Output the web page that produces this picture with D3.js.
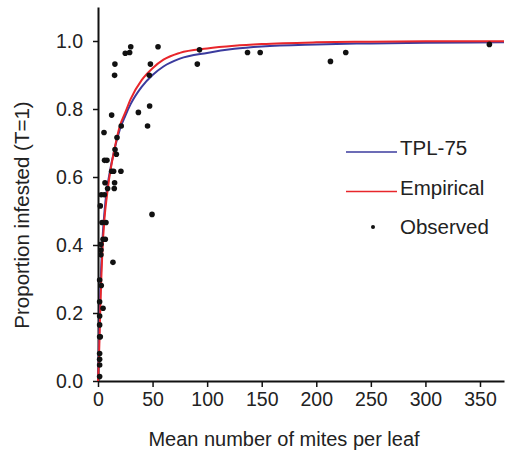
<!DOCTYPE html>
<html>
<head>
<meta charset="utf-8">
<script src="https://cdn.jsdelivr.net/npm/d3@7"></script>
<style>
  body { margin: 0; background: #fff; }
  svg text { font-family: "Liberation Sans", Arial, sans-serif; fill: #222; }
</style>
</head>
<body>
<svg id="chart" width="505" height="459"></svg>
<script>
// observed points (mean mites per leaf, proportion infested)
var obsX = [25, 29, 30, 15.5, 15.2, 55, 48, 47, 93, 91,
            37, 47.3, 45.4, 12.5, 5.5, 21.3, 17.4, 15.6, 16.8, 12.5,
            14.3, 21, 6, 8.2, 6.4, 15.2, 8.8, 14.9, 3, 5.8,
            2.1, 3.7, 7.3, 49.5, 4.6, 6.7, 2.7, 2.7, 2.7, 13.7,
            1.5, 3, 1.5, 4.6, 1.5, 1.5, 1.5, 2.1, 1.5, 1.5,
            1.5, 1.5, 137, 148.6, 213, 227, 358.6];
var obsY = [0.964, 0.966, 0.983, 0.932, 0.899, 0.983, 0.932, 0.899, 0.974, 0.932,
            0.79, 0.809, 0.75, 0.782, 0.731, 0.75, 0.716, 0.681, 0.667, 0.617,
            0.617, 0.617, 0.649, 0.649, 0.583, 0.583, 0.566, 0.566, 0.548, 0.548,
            0.515, 0.466, 0.466, 0.49, 0.417, 0.417, 0.402, 0.385, 0.371, 0.349,
            0.297, 0.281, 0.233, 0.214, 0.191, 0.165, 0.13, 0.13, 0.081, 0.064,
            0.047, 0.013, 0.966, 0.966, 0.94, 0.966, 0.99];

// fitted curves
var curveX = [0, 1, 2, 3, 4, 6, 8, 10, 15, 20, 25, 30, 40, 50, 60, 75, 100, 125, 150, 200, 250, 300, 372];
var tplY = [0, 0.12, 0.25, 0.34, 0.41, 0.5, 0.56, 0.6, 0.68, 0.74, 0.78, 0.815, 0.865, 0.9, 0.925, 0.948, 0.965, 0.977, 0.984, 0.99, 0.993, 0.995, 0.996];
var empY = [0, 0.08, 0.2, 0.3, 0.38, 0.48, 0.54, 0.59, 0.68, 0.75, 0.79, 0.83, 0.885, 0.92, 0.945, 0.965, 0.978, 0.986, 0.991, 0.996, 0.998, 0.999, 0.999];

var xTicks = [0, 50, 100, 150, 200, 250, 300, 350];
var yTicks = [0, 0.2, 0.4, 0.6, 0.8, 1.0];

var legendNames = ["TPL-75", "Empirical", "Observed"];
var legendColors = ["#3b3b9e", "#e8262b", "#111"];

var svg = d3.select("#chart");

var x = d3.scaleLinear().domain([0, 372]).range([98, 504]);
var y = d3.scaleLinear().domain([0, 1.1]).range([381, 7]);

var xAxis = svg.append("g")
    .attr("transform", "translate(0," + y(0) + ")")
    .call(d3.axisBottom(x).tickValues(xTicks).tickSize(6).tickSizeOuter(0).tickPadding(5));
var yAxis = svg.append("g")
    .attr("transform", "translate(" + x(0) + ",0)")
    .call(d3.axisLeft(y).tickValues(yTicks).tickFormat(d3.format(".1f")).tickSize(5).tickSizeOuter(0).tickPadding(10));

[xAxis, yAxis].forEach(function(a) {
    a.select(".domain").attr("stroke", "#111").attr("stroke-width", 2);
    a.selectAll(".tick line").attr("stroke", "#111").attr("stroke-width", 1.5);
    a.selectAll(".tick text").style("font-size", "19.5px").attr("fill", "#222");
});

svg.append("text")
    .attr("x", 284).attr("y", 446)
    .attr("text-anchor", "middle")
    .style("font-size", "20px")
    .text("Mean number of mites per leaf");

svg.append("text")
    .attr("transform", "translate(29,215) rotate(-90)")
    .attr("text-anchor", "middle")
    .style("font-size", "20.5px")
    .text("Proportion infested (T=1)");

var line = d3.line().curve(d3.curveMonotoneX);

function drawCurve(ys, color) {
    svg.append("path")
        .attr("d", line(curveX.map(function(d, i) { return [x(d), y(ys[i])]; })))
        .attr("fill", "none")
        .attr("stroke", color)
        .attr("stroke-width", 2);
}
drawCurve(tplY, legendColors[0]);
drawCurve(empY, legendColors[1]);

svg.append("g").selectAll("circle")
    .data(obsX)
    .enter().append("circle")
    .attr("cx", function(d) { return x(d); })
    .attr("cy", function(d, i) { return y(obsY[i]); })
    .attr("r", 2.8)
    .attr("fill", "#111");

// legend
var leg = svg.append("g");
legendNames.forEach(function(name, i) {
    var ly = 152 + i * 39.5;
    if (i < 2) {
        leg.append("line")
            .attr("x1", 346).attr("x2", 397)
            .attr("y1", ly).attr("y2", ly)
            .attr("stroke", legendColors[i]).attr("stroke-width", 1.6);
    } else {
        leg.append("circle").attr("cx", 373).attr("cy", ly - 4).attr("r", 2).attr("fill", "#111");
    }
    leg.append("text")
        .attr("x", 400).attr("y", ly + 3)
        .style("font-size", "20.5px")
        .text(name);
});
</script>
</body>
</html>
